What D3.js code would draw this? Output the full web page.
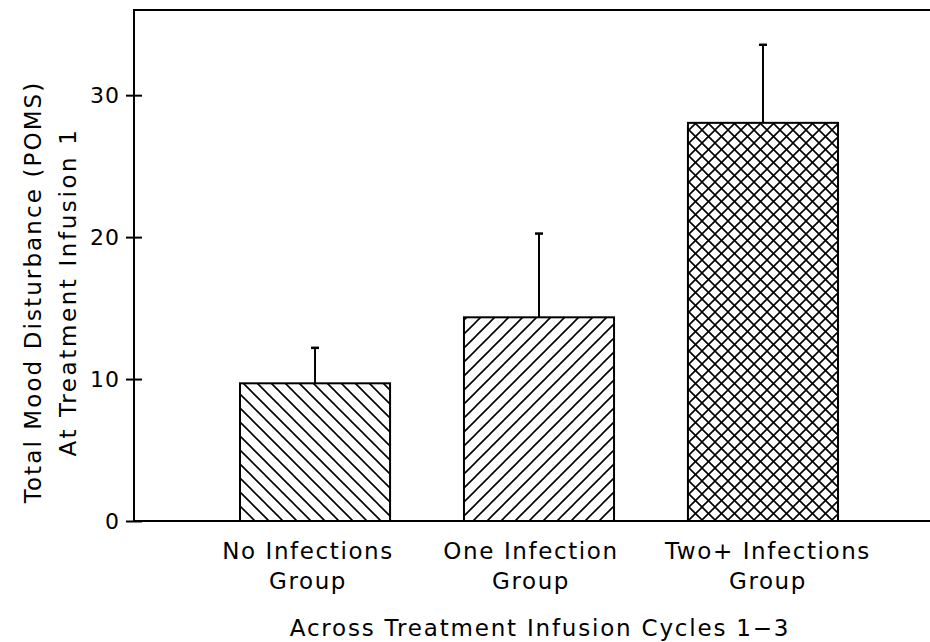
<!DOCTYPE html>
<html><head><meta charset="utf-8">
<script src="https://cdn.jsdelivr.net/npm/d3@7"></script>
<style>body{margin:0;background:#fff}svg{display:block}text{font-family:"DejaVu Sans",sans-serif;fill:#000}</style>
</head><body><svg id="c" width="930" height="642"></svg>
<script>
const categories = [["No Infections","Group"],["One Infection","Group"],["Two+ Infections","Group"]];
const means = [9.7, 14.35, 28.05];
const upperErr = [12.2, 20.25, 33.55];
const yTicks = [0, 10, 20, 30];
const patterns = ["back", "fwd", "cross"];
const yTitle = ["Total Mood Disturbance (POMS)", "At Treatment Infusion 1"];
const xTitle = "Across Treatment Infusion Cycles 1\u22123";

const svg = d3.select("#c");
const W = 930, H = 642;
const mLeft = 134, mTop = 10, mBottom = 521;
const labelShift = [-7, -8, 5];
const y = d3.scaleLinear().domain([0, 36]).range([mBottom, mTop]);
const x = d3.scaleBand().domain(d3.range(3)).range([240, 838]).paddingInner(0.33).paddingOuter(0);

const defs = svg.append("defs");
function hatch(id, paths, size) {
  const p = defs.append("pattern").attr("id", id).attr("patternUnits", "userSpaceOnUse")
    .attr("width", size).attr("height", size);
  p.append("rect").attr("width", size).attr("height", size).attr("fill", "#fff");
  paths.forEach(d => p.append("path").attr("d", d).attr("stroke", "#000").attr("stroke-width", 1.6).attr("fill", "none"));
}
const s1 = 14;
hatch("back", [`M0,0L${s1},${s1}M${-s1},0L${s1},${2*s1}M0,${-s1}L${2*s1},${s1}`], s1);
hatch("fwd", [`M0,${s1}L${s1},0M${-s1},${s1}L${s1},${-s1}M0,${2*s1}L${2*s1},0`], s1);
const s3 = 13;
hatch("cross", [`M0,0L${s3},${s3}M${-s3},0L${s3},${2*s3}M0,${-s3}L${2*s3},${s3}`, `M0,${s3}L${s3},0M${-s3},${s3}L${s3},${-s3}M0,${2*s3}L${2*s3},0`], s3);

// bars
svg.selectAll("rect.bar").data(means).join("rect").attr("class", "bar")
  .attr("x", (d, i) => x(i)).attr("width", x.bandwidth())
  .attr("y", d => y(d)).attr("height", d => mBottom - y(d))
  .attr("fill", (d, i) => `url(#${patterns[i]})`)
  .attr("stroke", "#000").attr("stroke-width", 2);

// error bars
const eb = svg.selectAll("g.err").data(means).join("g").attr("class", "err");
eb.append("line").attr("x1", (d, i) => x(i) + x.bandwidth() / 2).attr("x2", (d, i) => x(i) + x.bandwidth() / 2)
  .attr("y1", d => y(d)).attr("y2", (d, i) => y(upperErr[i])).attr("stroke", "#000").attr("stroke-width", 2);
eb.append("line").attr("x1", (d, i) => x(i) + x.bandwidth() / 2 - 4).attr("x2", (d, i) => x(i) + x.bandwidth() / 2 + 4)
  .attr("y1", (d, i) => y(upperErr[i])).attr("y2", (d, i) => y(upperErr[i])).attr("stroke", "#000").attr("stroke-width", 2.5);

// frame
svg.append("path").attr("d", `M${W},${mTop}H${mLeft}V${mBottom}H${W}`).attr("fill", "none").attr("stroke", "#000").attr("stroke-width", 2);

// y axis ticks
const yAxis = d3.axisLeft(y).tickValues(yTicks).tickSizeInner(8).tickSizeOuter(0).tickPadding(6);
const ga = svg.append("g").attr("transform", `translate(${mLeft},0)`).call(yAxis);
ga.select(".domain").remove();
ga.selectAll(".tick line").attr("x1", -8).attr("x2", 8).attr("stroke", "#000").attr("stroke-width", 2);
ga.selectAll(".tick text").attr("font-size", 22).attr("font-family", "DejaVu Sans").attr("fill", "#000").attr("letter-spacing", 1);

// x labels
categories.forEach((lines, i) => {
  const cx = x(i) + x.bandwidth() / 2 + labelShift[i];
  lines.forEach((t, j) => {
    svg.append("text").attr("x", cx).attr("y", 559 + j * 30).attr("text-anchor", "middle")
      .attr("font-size", 23).attr("letter-spacing", 1.6).text(t);
  });
});
svg.append("text").attr("x", 540).attr("y", 636).attr("text-anchor", "middle")
  .attr("font-size", 23).attr("letter-spacing", 1.8).text(xTitle);

// y title
yTitle.forEach((t, j) => {
  svg.append("text").attr("transform", `translate(${41 + j * 35},${292}) rotate(-90)`)
    .attr("text-anchor", "middle").attr("font-size", 23).attr("letter-spacing", j ? 2.6 : 2.1).text(t);
});
</script></body></html>
